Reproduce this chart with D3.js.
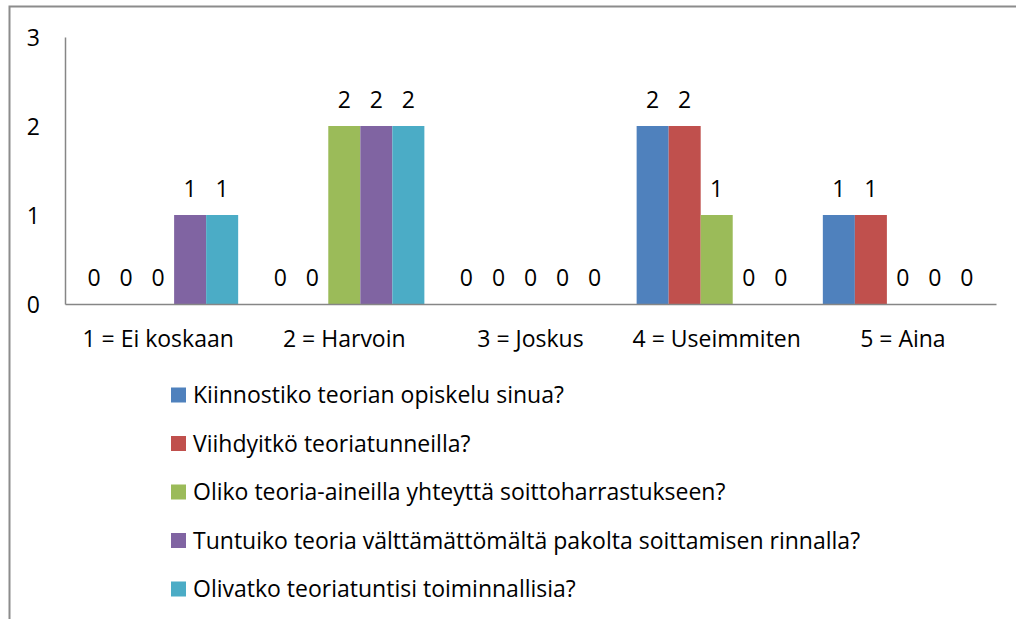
<!DOCTYPE html>
<html>
<head>
<meta charset="utf-8">
<script src="https://cdn.jsdelivr.net/npm/d3@7"></script>
<style>
  body { margin: 0; background: #fff; }
  text { font-family: "Open Sans", "Noto Sans", sans-serif; fill: #000; }
</style>
</head>
<body>
<div id="chart"></div>
<script>
var categories = ["1 = Ei koskaan", "2 = Harvoin", "3 = Joskus", "4 = Useimmiten", "5 = Aina"];
var seriesNames = [
  "Kiinnostiko teorian opiskelu sinua?",
  "Viihdyitkö teoriatunneilla?",
  "Oliko teoria-aineilla yhteyttä soittoharrastukseen?",
  "Tuntuiko teoria välttämättömältä pakolta soittamisen rinnalla?",
  "Olivatko teoriatuntisi toiminnallisia?"
];
var kiinnostiko = [0, 0, 0, 2, 1];
var viihdyitko = [0, 0, 0, 2, 1];
var oliko = [0, 2, 0, 1, 0];
var tuntuiko = [1, 2, 0, 0, 0];
var olivatko = [1, 2, 0, 0, 0];
var yTicks = [0, 1, 2, 3];
var colors = ["#4F81BD", "#C0504D", "#9BBB59", "#8064A2", "#4BACC6"];

var allSeries = [kiinnostiko, viihdyitko, oliko, tuntuiko, olivatko];

var W = 1016, H = 619;
var margin = {top: 37, left: 65};
var width = 996 - margin.left,
    height = 304 - margin.top;
var fs = "23px";

var svg = d3.select("#chart").append("svg")
    .attr("width", W)
    .attr("height", H);

// outer chart border (runs off the picture at right and bottom)
svg.append("rect")
    .attr("x", 9.5).attr("y", 6.5)
    .attr("width", W + 20).attr("height", H + 20)
    .attr("fill", "none")
    .attr("stroke", "#8c8c8c")
    .attr("stroke-width", 2);

var g = svg.append("g")
    .attr("transform", "translate(" + margin.left + "," + margin.top + ")");

var x0 = d3.scaleBand().domain(categories).range([0, width])
    .paddingInner(0.14).paddingOuter(0.07);
var x1 = d3.scaleBand().domain(d3.range(seriesNames.length)).range([0, x0.bandwidth()]);
var y = d3.scaleLinear().domain([0, 3]).range([height, 0]);

// bars + value labels
allSeries.forEach(function(vals, si) {
  g.selectAll(".bar" + si)
    .data(vals)
    .enter().append("rect")
      .attr("class", "bar" + si)
      .attr("x", function(d, i) { return x0(categories[i]) + x1(si); })
      .attr("y", function(d) { return y(d); })
      .attr("width", x1.bandwidth())
      .attr("height", function(d) { return height - y(d); })
      .attr("fill", colors[si]);

  g.selectAll(".lbl" + si)
    .data(vals)
    .enter().append("text")
      .attr("class", "lbl" + si)
      .attr("x", function(d, i) { return x0(categories[i]) + x1(si) + x1.bandwidth() / 2; })
      .attr("y", function(d) { return y(d) - 18; })
      .attr("text-anchor", "middle")
      .style("font-size", fs)
      .text(function(d) { return d; });
});

// axes
var yAxis = g.append("g")
    .attr("class", "axis")
    .call(d3.axisLeft(y).tickValues(yTicks).tickSize(0).tickPadding(25).tickFormat(d3.format("d")));
yAxis.selectAll("text").style("font-size", fs).attr("dy", "0.35em");

var xAxis = g.append("g")
    .attr("class", "axis")
    .attr("transform", "translate(0," + height + ")")
    .call(d3.axisBottom(x0).tickSize(0));
xAxis.selectAll("text").style("font-size", fs).attr("y", 42.5).attr("dy", 0);

g.selectAll(".axis .domain").attr("stroke", "#868686").attr("stroke-width", 1.5);

// legend
var legend = svg.append("g").attr("transform", "translate(171,0)");
seriesNames.forEach(function(name, i) {
  var cy = 395 + i * 48.5;
  legend.append("rect")
    .attr("x", 0).attr("y", cy - 7.5)
    .attr("width", 15).attr("height", 15)
    .attr("fill", colors[i]);
  legend.append("text")
    .attr("x", 22).attr("y", cy)
    .attr("dy", "0.35em")
    .style("font-size", fs)
    .text(name);
});
</script>
</body>
</html>
